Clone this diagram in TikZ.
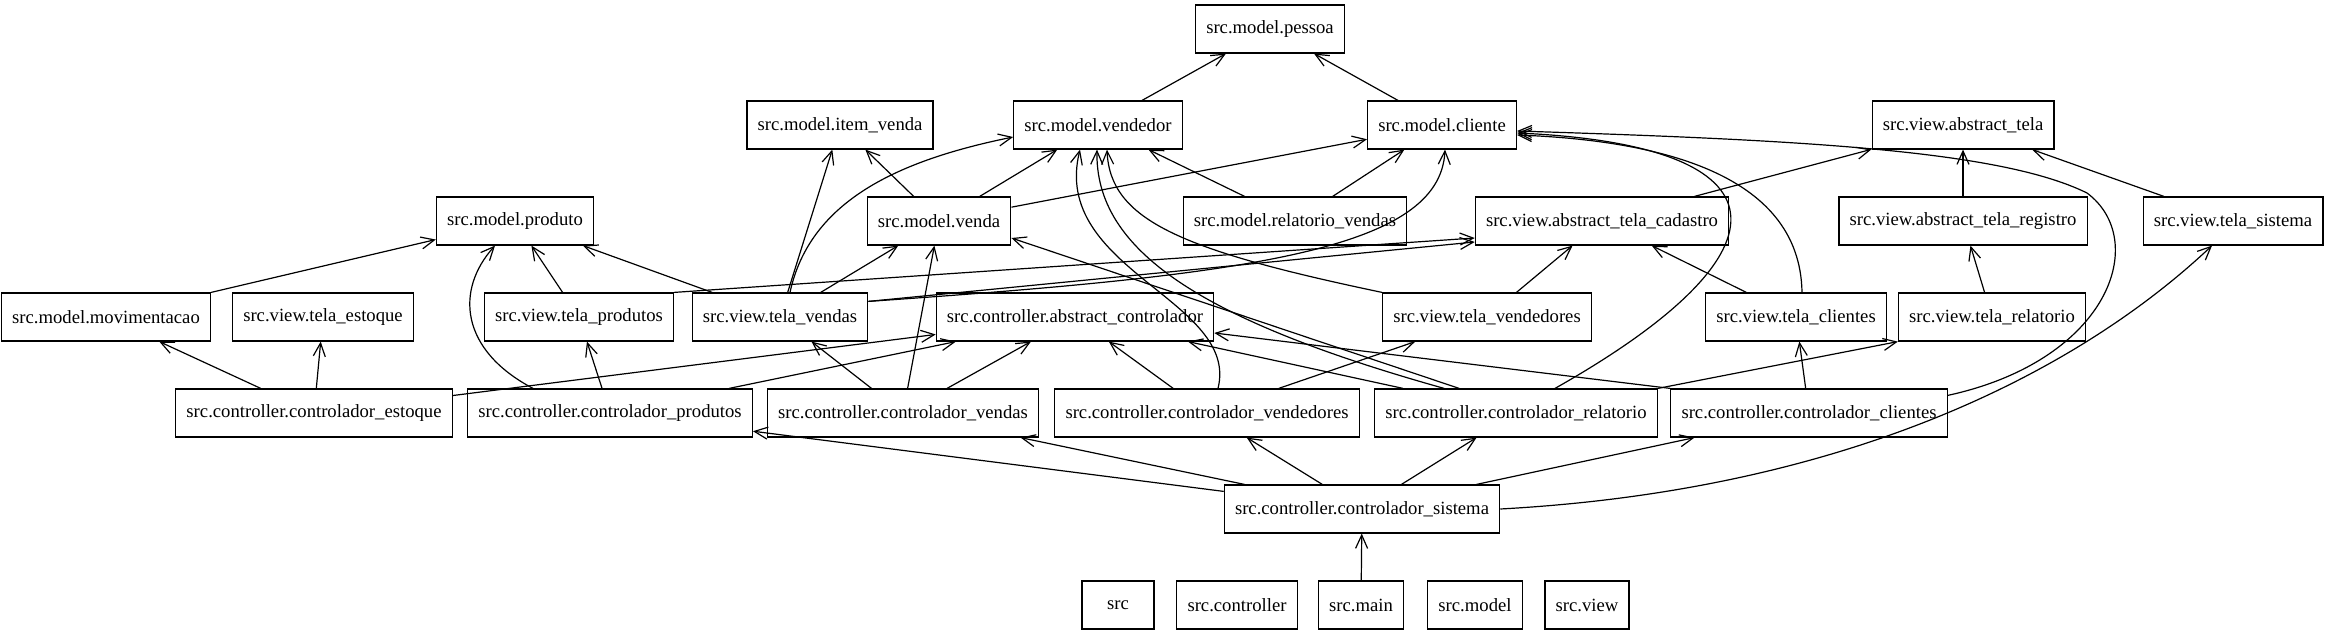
\documentclass[tikz,border=0pt]{standalone}
\usepackage{fontspec}
\setmainfont{Liberation Serif}
\usetikzlibrary{arrows.meta, calc}

\begin{document}
\begin{tikzpicture}[x=0.75pt, y=0.75pt,
    pkg/.style={draw, line width=0.9pt, font=\fontsize{14}{16}\selectfont,
        minimum height=36pt, minimum width=54pt, inner xsep=8pt, inner ysep=0pt},
    dep/.style={-{Straight Barb[length=10pt, width=9pt]}, line width=0.9pt}
]
    \useasboundingbox (0,0) rectangle (2349,-635);

    \node[pkg] (pessoa) at (1270,-29) {src.model.pessoa};

    \node[pkg] (itemvenda) at (840,-125) {src.model.item\_venda};
    \node[pkg] (vendedor) at (1098,-125) {src.model.vendedor};
    \node[pkg] (cliente) at (1442,-125) {src.model.cliente};
    \node[pkg] (tela) at (1963,-125) {src.view.abstract\_tela};

    \node[pkg] (produto) at (515,-221) {src.model.produto};
    \node[pkg] (venda) at (939,-221) {src.model.venda};
    \node[pkg] (relvendas) at (1295,-221) {src.model.relatorio\_vendas};
    \node[pkg] (cadastro) at (1602,-221) {src.view.abstract\_tela\_cadastro};
    \node[pkg] (registro) at (1963,-221) {src.view.abstract\_tela\_registro};
    \node[pkg] (tsistema) at (2233,-221) {src.view.tela\_sistema};

    \node[pkg] (movim) at (106,-317) {src.model.movimentacao};
    \node[pkg] (testoque) at (323,-317) {src.view.tela\_estoque};
    \node[pkg] (tprodutos) at (579,-317) {src.view.tela\_produtos};
    \node[pkg] (tvendas) at (780,-317) {src.view.tela\_vendas};
    \node[pkg] (abscontr) at (1075,-317) {src.controller.abstract\_controlador};
    \node[pkg] (tvendedores) at (1487,-317) {src.view.tela\_vendedores};
    \node[pkg] (tclientes) at (1796,-317) {src.view.tela\_clientes};
    \node[pkg] (trelatorio) at (1992,-317) {src.view.tela\_relatorio};

    \node[pkg] (cestoque) at (314,-413) {src.controller.controlador\_estoque};
    \node[pkg] (cprodutos) at (610,-413) {src.controller.controlador\_produtos};
    \node[pkg] (cvendas) at (903,-413) {src.controller.controlador\_vendas};
    \node[pkg] (cvendedores) at (1207,-413) {src.controller.controlador\_vendedores};
    \node[pkg] (crelatorio) at (1516,-413) {src.controller.controlador\_relatorio};
    \node[pkg] (cclientes) at (1809,-413) {src.controller.controlador\_clientes};

    \node[pkg] (csistema) at (1362,-509) {src.controller.controlador\_sistema};

    \node[pkg] (src) at (1118,-605) {src};
    \node[pkg] (srccontroller) at (1237,-605) {src.controller};
    \node[pkg] (srcmain) at (1361,-605) {src.main};
    \node[pkg] (srcmodel) at (1475,-605) {src.model};
    \node[pkg] (srcview) at (1587,-605) {src.view};

    \draw[dep] (vendedor) -- (pessoa);
    \draw[dep] (cliente) -- (pessoa);
    \draw[dep] (venda) -- (itemvenda);
    \draw[dep] (venda) -- (vendedor);
    \draw[dep] (venda) -- (cliente);
    \draw[dep] (relvendas) -- (vendedor);
    \draw[dep] (relvendas) -- (cliente);

    \draw[dep] (movim) -- (produto);
    \draw[dep] (tprodutos) -- (produto);
    \draw[dep] (tvendas) -- (produto);
    \draw[dep] (tvendas) -- (itemvenda);
    \draw[dep] (tvendas) -- (venda);
    \draw[dep] ($(tvendas.north)+(10,0)$) .. controls (810,-200) and (900,-160) .. ($(vendedor.west)+(0,-12)$);
    \draw[dep] ($(tvendas.north east)+(0,-9)$) .. controls (1250,-275) and (1440,-250) .. ($(cliente.south)+(3,0)$);
    \draw[dep] ($(tvendas.north east)+(0,-9)$) -- ($(cadastro.west)+(0,-21)$);
    \draw[dep] (tprodutos.north east) -- ($(cadastro.west)+(0,-17)$);

    \draw[dep] (cadastro) -- (tela);
    \draw[dep] (registro) -- (tela);
    \draw[dep] (tsistema) -- (tela);
    \draw[dep] (tvendedores) -- (cadastro);
    \draw[dep] (tvendedores.north west) .. controls (1180,-250) and (1110,-220) .. ($(vendedor.south)+(9,0)$);
    \draw[dep] (tclientes) -- (cadastro);
    \draw[dep] ($(tclientes.north)+(6,0)$) .. controls (1800,-170) and (1650,-140) .. ($(cliente.east)+(0,-10)$);
    \draw[dep] (trelatorio) -- (registro);

    \draw[dep] (cestoque) -- (movim);
    \draw[dep] (cestoque) -- (testoque);
    \draw[dep] (cestoque) -- (abscontr);
    \draw[dep] ($(cprodutos.north)+(-77,0)$) .. controls (460,-350) and (455,-290) .. ($(produto.south)+(-20,0)$);
    \draw[dep] (cprodutos) -- (tprodutos);
    \draw[dep] (cprodutos) -- (abscontr);
    \draw[dep] (cvendas) -- (tvendas);
    \draw[dep] (cvendas) -- (venda);
    \draw[dep] (cvendas) -- (abscontr);
    \draw[dep] (cvendedores) -- (abscontr);
    \draw[dep] ($(cvendedores.north)+(11,0)$) .. controls (1240,-300) and (1050,-270) .. ($(vendedor.south)+(-18,0)$);
    \draw[dep] (cvendedores) -- (tvendedores);
    \draw[dep] (crelatorio) -- (abscontr);
    \draw[dep] ($(crelatorio.north west)+(70,0)$) .. controls (1200,-320) and (1095,-250) .. ($(vendedor.south)+(-1,0)$);
    \draw[dep] ($(crelatorio.north west)+(85,0)$) -- ($(venda.east)+(0,-17)$);
    \draw[dep] ($(crelatorio.north)+(39,0)$) .. controls (1800,-250) and (1790,-145) .. ($(cliente.east)+(0,-8)$);
    \draw[dep] (crelatorio.north east) -- (trelatorio.south west);
    \draw[dep] (cclientes.north west) -- ($(abscontr.east)+(0,-16)$);
    \draw[dep] (cclientes) -- (tclientes);
    \draw[dep] ($(cclientes.north east)+(0,-7)$) .. controls (2110,-360) and (2150,-240) .. (2087,-193)
        .. controls (2000,-150) and (1800,-140) .. ($(cliente.east)+(0,-6)$);

    \draw[dep] (csistema) -- (cprodutos);
    \draw[dep] (csistema) -- (cvendas);
    \draw[dep] (csistema) -- (cvendedores);
    \draw[dep] (csistema) -- (crelatorio);
    \draw[dep] (csistema) -- (cclientes);
    \draw[dep] (csistema.east) .. controls (1850,-490) and (2080,-370) .. ($(tsistema.south)+(-21,0)$);
    \draw[dep] (srcmain) -- (csistema);
\end{tikzpicture}
\end{document}
